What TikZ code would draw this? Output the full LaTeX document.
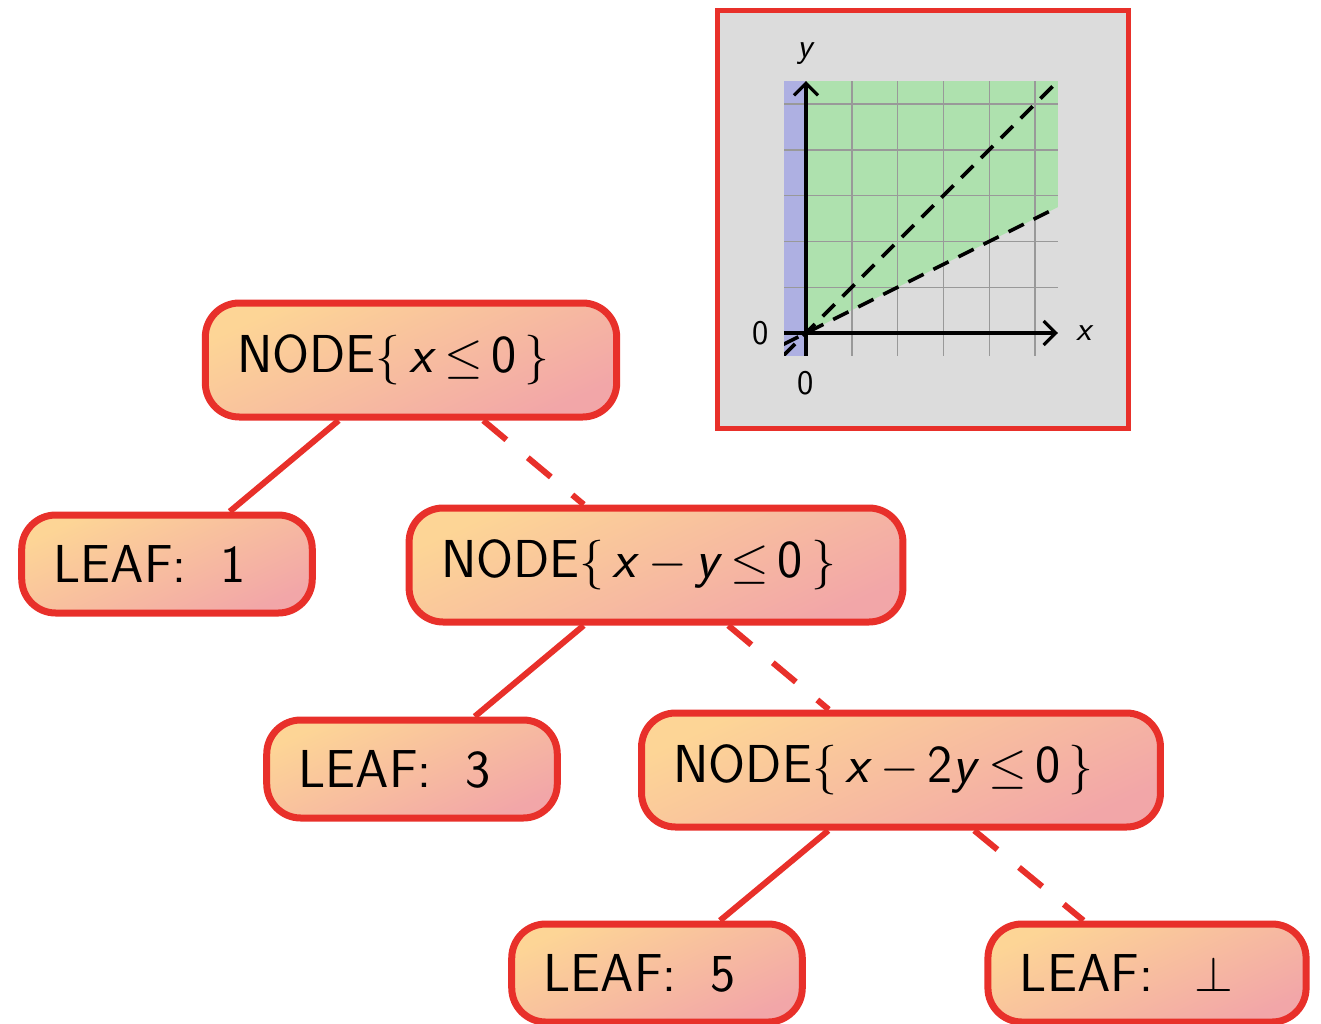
\documentclass[tikz,border=0pt]{standalone}
\usepackage{tikz}
\usetikzlibrary{arrows.meta, positioning}
\definecolor{treered}{HTML}{E8302A}
\definecolor{shadetop}{HTML}{FDD596}
\definecolor{shadebot}{HTML}{F2A6A8}
\definecolor{plotgray}{HTML}{DCDCDC}
\definecolor{plotgreen}{HTML}{AEE1AE}
\definecolor{plotblue}{HTML}{AEB0E2}
\newcommand{\vx}{\textit{x}}
\newcommand{\vy}{\textit{y}}

\begin{document}
\begin{tikzpicture}[
  x=0.5pt, y=-0.5pt,
  tbox/.style={rectangle, rounded corners=17pt, draw=treered, line width=3.5pt,
    top color=shadetop, bottom color=shadebot, shading angle=25,
    font=\fontsize{26.7}{32}\selectfont\sffamily, inner xsep=16pt, inner ysep=0pt},
  leaf/.style={tbox, minimum height=49pt},
  split/.style={tbox, minimum height=57pt},
  yes/.style={treered, line width=3pt},
  no/.style={treered, line width=3pt, dash pattern=on 15pt off 14pt},
  axis/.style={line width=1.6pt, -{Straight Barb[length=6pt,width=12pt]}},
  bound/.style={line width=1.8pt, dash pattern=on 8.5pt off 5.5pt},
]
\useasboundingbox (0,0) rectangle (1321,1023);

% Baum
\node[split] (root) at (411,360) {NODE$\{\,$\vx$\,\leq\,$0$\,\}$\rule{17.5pt}{0pt}};
\node[leaf, below=45.5pt of root, xshift=-122pt] (leafA) {LEAF:\ \ 1\rule{17.5pt}{0pt}};
\node[split, below=42pt of root, xshift=122.5pt] (nodeB) {NODE$\{\,$\vx$\,-\,$\vy$\,\leq\,$0$\,\}$\rule{17.5pt}{0pt}};
\node[leaf, below=45.5pt of nodeB, xshift=-122pt] (leafC) {LEAF:\ \ 3\rule{17.5pt}{0pt}};
\node[split, below=42pt of nodeB, xshift=122.5pt] (nodeD) {NODE$\{\,$\vx$\,-\,$2\vy$\,\leq\,$0$\,\}$\rule{17.5pt}{0pt}};
\node[leaf, below=45pt of nodeD, xshift=-122pt] (leafE) {LEAF:\ \ 5\rule{17.5pt}{0pt}};
\node[leaf, below=45pt of nodeD, xshift=123pt] (leafF) {LEAF:\ \ \kern4pt$\bot$\kern3pt\rule{17.5pt}{0pt}};

% Kanten
\draw[yes] (root) -- (leafA);
\draw[no] (root) -- (nodeB);
\draw[yes] (nodeB) -- (leafC);
\draw[no] (nodeB) -- (nodeD);
\draw[yes] (nodeD) -- (leafE);
\draw[no] (nodeD) -- (leafF);

% Plot
\draw[treered, line width=2.5pt, fill=plotgray] (717,10) rectangle (1128,428);
\begin{scope}[shift={(806,333)}, x=22.9pt, y=22.9pt, font=\LARGE\sffamily]
  \fill[plotblue] (-0.48,-0.5) rectangle (0,5.5);
  \fill[plotgreen] (0,0) -- (5.5,2.75) -- (5.5,5.5) -- (0,5.5) -- cycle;
  \draw[black!40, line width=0.7pt, step=22.9pt] (-0.48,-0.5) grid (5.5,5.5);
  \begin{scope}
    \clip (-0.48,-0.5) rectangle (5.5,5.5);
    \draw[bound] (-0.5,-0.5) -- (5.5,5.5);
    \draw[bound] (-0.5,-0.25) -- (5.5,2.75);
  \end{scope}
  \draw[axis] (-0.48,0) -- (5.5,0);
  \draw[axis] (0,-0.5) -- (0,5.5);
  \node (xlab) at (6.1,0) {\vx};
  \node (ylab) at (0,6.1) {\vy};
  \node (xzero) at (-1,0) {0};
  \node (yzero) at (0,-1.1) {0};
\end{scope}

\end{tikzpicture}
\end{document}
